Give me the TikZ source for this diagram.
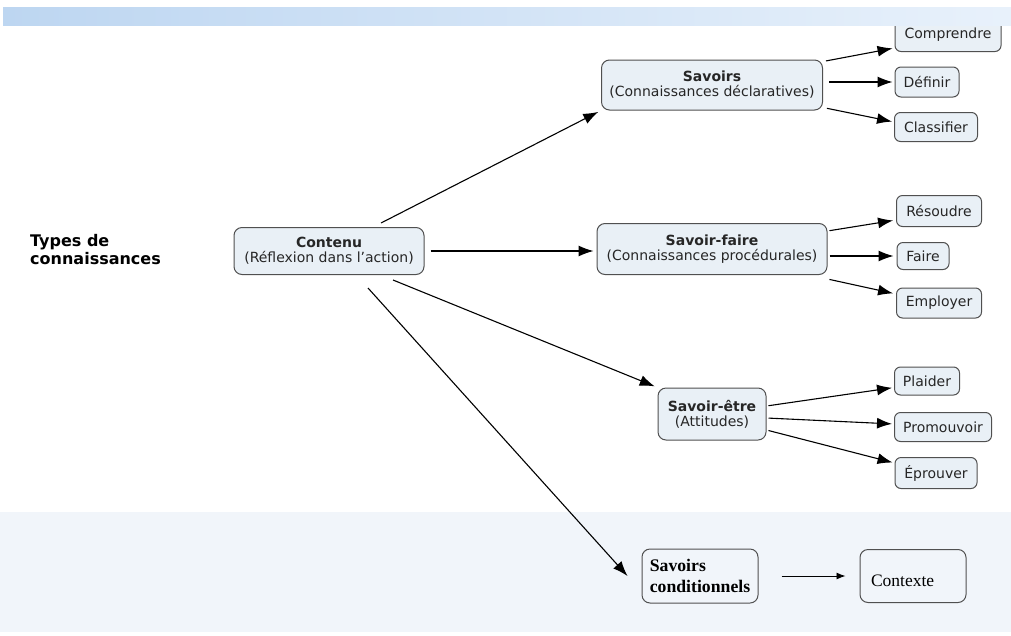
\documentclass[tikz,border=0pt]{standalone}
\usepackage{fontspec}
\setmainfont{DejaVu Sans}
\newfontfamily\timesfont{Liberation Serif}
\usepackage{tikz}
\usetikzlibrary{shapes, arrows.meta}

\definecolor{boxfill}{HTML}{E9F0F6}
\definecolor{boxline}{HTML}{505050}
\definecolor{bandlow}{HTML}{F1F5FA}
\definecolor{bandleft}{HTML}{BDD6F1}
\definecolor{bandright}{HTML}{E8F1FB}

\begin{document}
\begin{tikzpicture}[x=1pt, y=-1pt]
      \tikzstyle{main} = [
        rectangle,
        draw=boxline,
        fill=boxfill,
        line width=1pt,
        rounded corners=8pt,
        align=center,
        text=black!85,
        font=\fontsize{14}{15}\selectfont
      ]

      \tikzstyle{leaf} = [
        rectangle,
        draw=boxline,
        fill=boxfill,
        line width=1pt,
        rounded corners=6pt,
        text=black!85,
        font=\fontsize{14}{15}\selectfont
      ]

      \tikzstyle{cond} = [
        rectangle,
        draw=boxline,
        fill=bandlow,
        line width=1pt,
        rounded corners=8pt,
        text=black
      ]

      \tikzstyle{arrow} = [
        -{Latex[length=15pt,width=11pt]},
        line width=1.1pt
      ]

      \useasboundingbox (0,0) rectangle (1011,635);
      \fill[bandlow] (0,512) rectangle (1011,632);

      \node[anchor=west, align=left, inner sep=0pt,
      font=\bfseries\fontsize{16}{18}\selectfont]
      (types) at (30,250) {Types de\\connaissances};

      \node[main, minimum width=190pt, minimum height=47pt] (contenu) at (329,251)
      {\textbf{Contenu}\\(Réflexion dans l'action)};
      \node[main, minimum width=221pt, minimum height=50pt] (savoirs) at (712,85)
      {\textbf{Savoirs}\\(Connaissances déclaratives)};
      \node[main, minimum width=230pt, minimum height=51pt] (savoirfaire) at (712,249)
      {\textbf{Savoir-faire}\\(Connaissances procédurales)};
      \node[main, minimum width=108pt, minimum height=52pt] (savoiretre) at (712,414)
      {\textbf{Savoir-être}\\(Attitudes)};

      \node[leaf, minimum width=106pt, minimum height=33pt] (comprendre) at (948,35) {Comprendre};
      \node[leaf, minimum width=64pt, minimum height=30pt] (definir) at (927,82) {Définir};
      \node[leaf, minimum width=83pt, minimum height=29pt] (classifier) at (936,127) {Classifier};
      \node[leaf, minimum width=85pt, minimum height=31pt] (resoudre) at (939,211) {Résoudre};
      \node[leaf, minimum width=52pt, minimum height=27pt] (faire) at (923,256) {Faire};
      \node[leaf, minimum width=85pt, minimum height=30pt] (employer) at (939,303) {Employer};
      \node[leaf, minimum width=65pt, minimum height=28pt] (plaider) at (927,381) {Plaider};
      \node[leaf, minimum width=97pt, minimum height=29pt] (promouvoir) at (943,427) {Promouvoir};
      \node[leaf, minimum width=82pt, minimum height=31pt] (eprouver) at (936,473) {Éprouver};

      \node[cond, minimum width=116pt, minimum height=54pt, align=left,
      font=\timesfont\bfseries\fontsize{17.7}{21}\selectfont]
      (savcond) at (700,576) {Savoirs\\conditionnels};
      \node[cond, minimum width=106pt, minimum height=53pt, align=left,
      text width=84pt, text height=20pt, text depth=0pt,
      font=\timesfont\fontsize{17.5}{20}\selectfont]
      (contexte) at (913,576) {Contexte};

      % top band over the first leaf
      \shade[left color=bandleft, right color=bandright] (3,7) rectangle (1011,25);

      \draw[arrow, shorten >=3pt] ([xshift=52pt,yshift=4pt]contenu.north) -- (savoirs.south west);
      \draw[arrow, shorten <=6pt, shorten >=3pt] (contenu.east) -- (contenu.east -| savoirfaire.west);
      \draw[arrow, shorten >=3pt] ([xshift=64pt,yshift=-5pt]contenu.south) -- (savoiretre.north west);
      \draw[arrow] ([xshift=39pt,yshift=-13pt]contenu.south) -- ([xshift=-14pt]savcond.west);

      \draw[arrow, shorten <=3pt, shorten >=2pt] ([yshift=-2pt]savoirs.north east) -- ([yshift=4pt]comprendre.south west);
      \draw[arrow, shorten <=6pt, shorten >=2pt] (savoirs.east |- definir.west) -- (definir.west);
      \draw[arrow, shorten <=4pt, shorten >=2pt] ([yshift=3pt]savoirs.south east) -- ([yshift=5pt]classifier.west);

      \draw[arrow, shorten <=2pt, shorten >=3pt] ([yshift=18pt]savoirfaire.east) -- ([yshift=7pt]resoudre.south west);
      \draw[arrow, shorten <=2pt, shorten >=3pt] (savoirfaire.east |- faire.west) -- (faire.west);
      \draw[arrow, shorten <=2pt, shorten >=3pt] ([yshift=-4pt]savoirfaire.south east) -- ([yshift=9pt]employer.west);

      \draw[arrow, shorten <=2pt, shorten >=2pt] ([yshift=8pt]savoiretre.east) -- ([yshift=8pt]plaider.south west);
      \draw[arrow, shorten <=2pt, shorten >=2pt] ([yshift=-4pt]savoiretre.east) -- ([yshift=3pt]promouvoir.west);
      \draw[arrow, shorten <=2pt, shorten >=2pt] ([yshift=-16pt]savoiretre.east) -- ([yshift=10pt]eprouver.west);

      \draw[-{Latex[length=9pt,width=7pt]}, line width=0.9pt, shorten <=23pt, shorten >=14pt]
      (savcond.east) -- (contexte.west);
    \end{tikzpicture}
\end{document}
